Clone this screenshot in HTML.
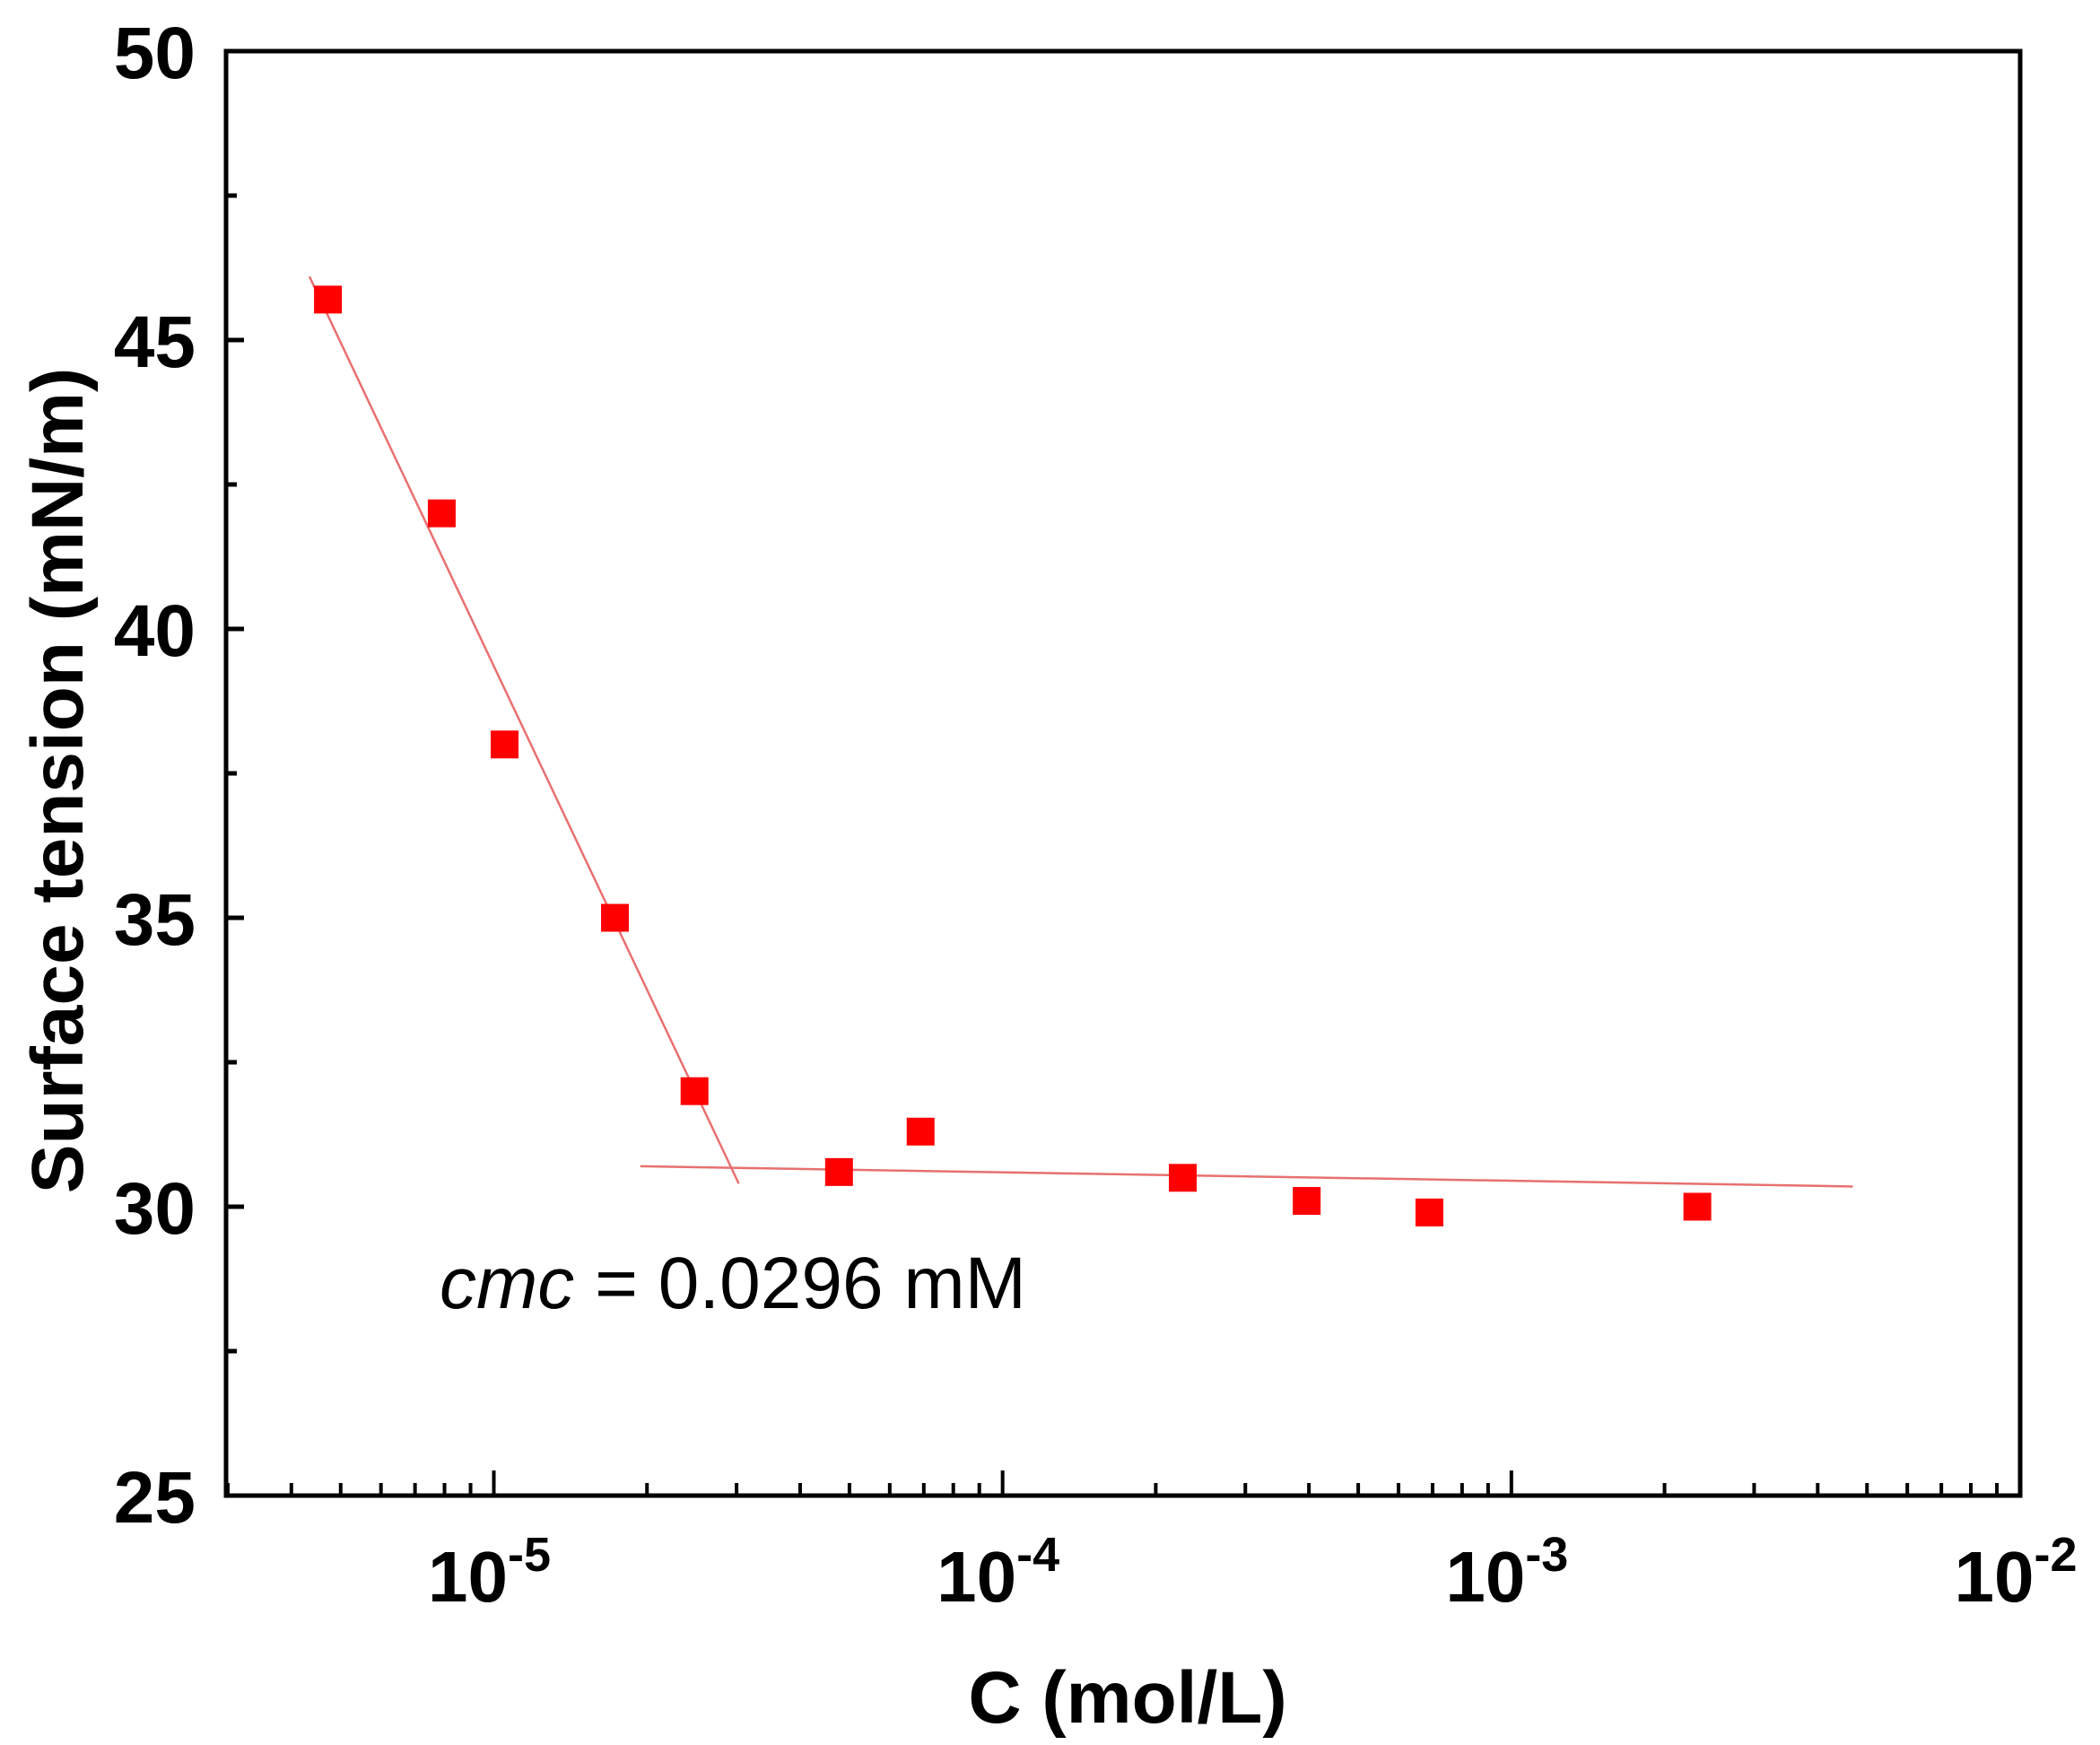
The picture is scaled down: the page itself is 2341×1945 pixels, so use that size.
<!DOCTYPE html>
<html><head><meta charset="utf-8"><style>
html,body{margin:0;padding:0;background:#fff;}
svg{display:block;font-family:"Liberation Sans",Arial,sans-serif;}
</style></head><body>
<svg id="chart" width="2341" height="1945" viewBox="0 0 2341 1945" xmlns="http://www.w3.org/2000/svg">
<g id="ticks"></g>
<g id="fits"></g>
<g id="points"></g>
<rect x="252" y="57" width="2000" height="1610" fill="none" stroke="#000" stroke-width="5"/>
<text x="490" y="1458" font-size="82" fill="#000"><tspan font-style="italic">cmc</tspan> = 0.0296 mM</text>
<text x="1257" y="1920" font-size="82" font-weight="bold" text-anchor="middle">C (mol/L)</text>
<text transform="translate(92,870) rotate(-90)" font-size="82" font-weight="bold" text-anchor="middle">Surface tension (mN/m)</text>
</svg>
<script>
const concentrations = [4.72e-6, 7.9e-6, 1.05e-5, 1.73e-5, 2.48e-5, 4.77e-5, 6.9e-5, 2.26e-4, 3.96e-4, 6.9e-4, 2.32e-3];
const tensions = [45.7, 42.0, 38.0, 35.0, 32.0, 30.6, 31.3, 30.5, 30.1, 29.9, 30.0];
const fit1X = [4.34e-6, 3.03e-5];
const fit1Y = [46.1, 30.4];
const fit2X = [1.94e-5, 4.69e-3];
const fit2Y = [30.7, 30.35];
const yTicks = [25, 30, 35, 40, 45, 50];
const xDecades = [-5, -4, -3, -2];

const L=252,R=2252,T=57,B=1667;
const logMin=-5.5263, logMax=-2;
function xs(v){return L+(Math.log10(v)-logMin)/(logMax-logMin)*(R-L);}
function ys(v){return B-(v-25)/(50-25)*(B-T);}
const NS="http://www.w3.org/2000/svg";
function mk(tag,attrs,parent){const e=document.createElementNS(NS,tag);for(const k in attrs)e.setAttribute(k,attrs[k]);parent.appendChild(e);return e;}
const tk=document.getElementById('ticks');
yTicks.forEach((v,i)=>{
  const y=ys(v);
  const l=mk('line',{x1:L,x2:L+20,y1:y,y2:y,stroke:'#000','stroke-width':5},tk);
  
  
  const t=mk('text',{x:218,y:y+30,'font-size':82,'font-weight':'bold','text-anchor':'end'},tk);
  t.textContent=v;
  
  
  if(i<yTicks.length-1){
    const ym=ys(v+2.5);
    const m=mk('line',{x1:L,x2:L+12,y1:ym,y2:ym,stroke:'#000','stroke-width':5},tk);
    
    
  }
});
for(let d=-6;d<=-3;d++){
  for(let k=2;k<=9;k++){
    const v=k*Math.pow(10,d);
    if(Math.log10(v)<logMin)continue;
    const x=xs(v);
    const m=mk('line',{x1:x,x2:x,y1:B,y2:B-14,stroke:'#000','stroke-width':4},tk);
    
    
  }
}
xDecades.forEach(d=>{
  const x=xs(Math.pow(10,d));
  const l=mk('line',{x1:x,x2:x,y1:B,y2:B-28,stroke:'#000','stroke-width':4},tk);
  
  
  const t=mk('text',{x:x-5,y:1785,'font-size':80,'font-weight':'bold','text-anchor':'middle'},tk);
  t.innerHTML='10<tspan dy="-34" font-size="54">'+d+'</tspan>';
  
  
});
const fg=document.getElementById('fits');
[[fit1X,fit1Y],[fit2X,fit2Y]].forEach(([fx,fy])=>{
  const l=mk('line',{x1:xs(fx[0]),y1:ys(fy[0]),x2:xs(fx[1]),y2:ys(fy[1]),stroke:'#e87070','stroke-width':2.5},fg);
  
  
});
const pg=document.getElementById('points');
concentrations.forEach((c,i)=>{
  const s=31;
  const r=mk('rect',{x:xs(c)-s/2,y:ys(tensions[i])-s/2,width:s,height:s,fill:'#ff0000'},pg);
  
  
});
</script>
</body></html>
